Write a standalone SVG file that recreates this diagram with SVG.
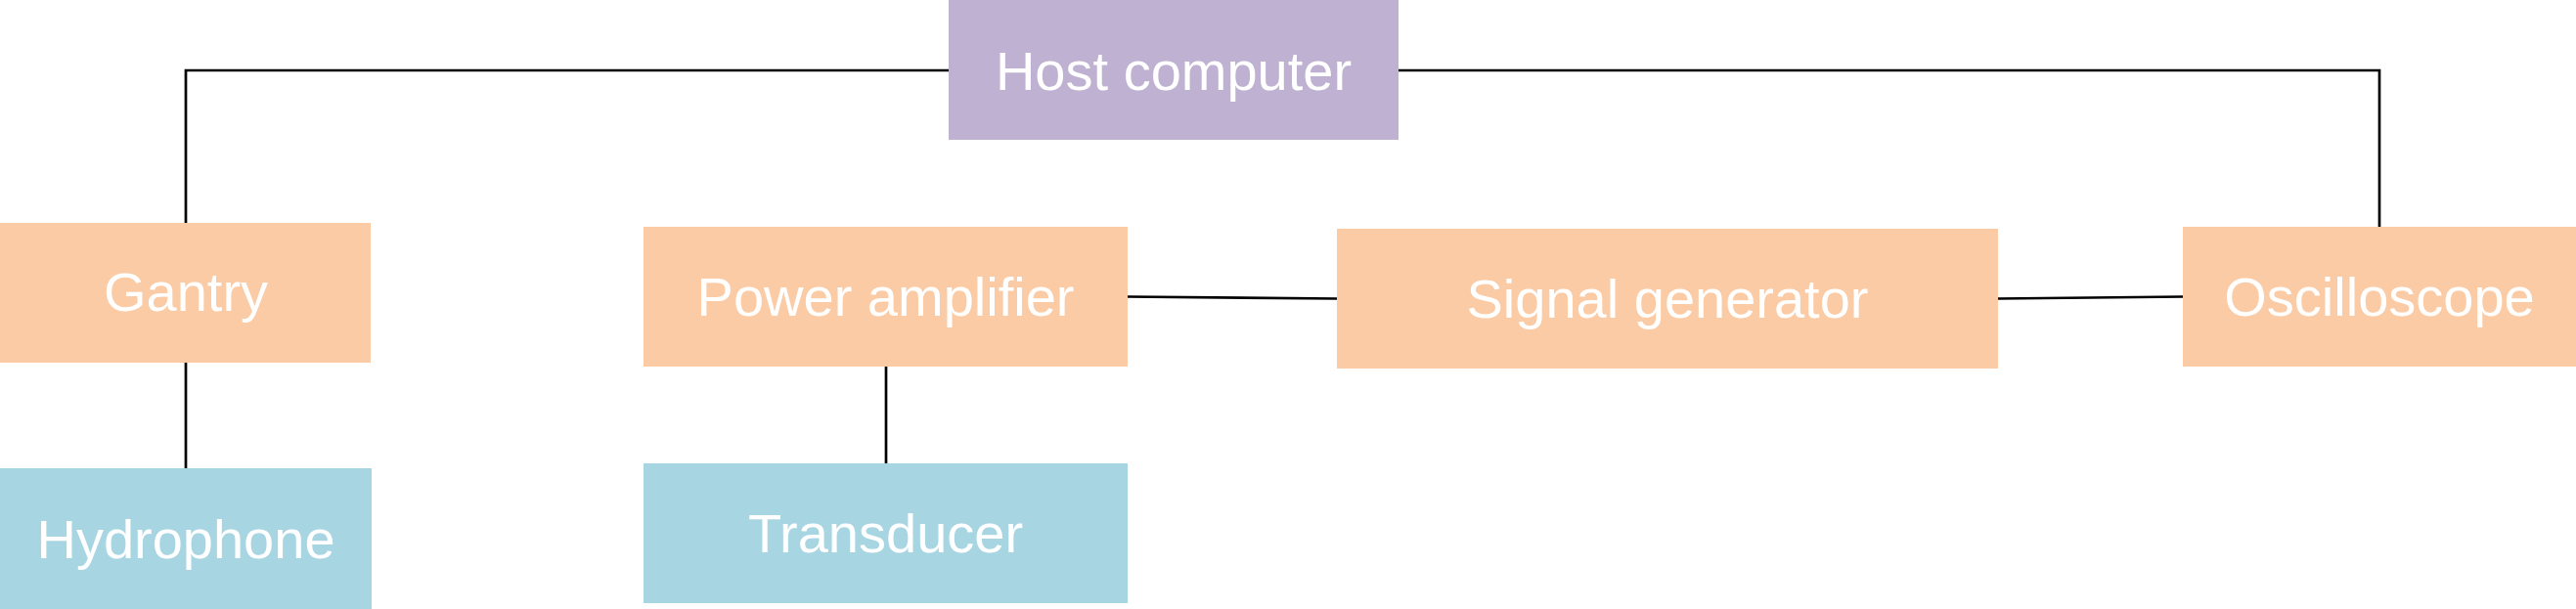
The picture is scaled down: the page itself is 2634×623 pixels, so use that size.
<svg xmlns="http://www.w3.org/2000/svg" width="2634" height="623" viewBox="0 0 2634 623">
<style>
.lbl{font-family:"Liberation Sans",Arial,sans-serif;font-size:56px;fill:#ffffff;text-anchor:middle}
.host{fill:#BFB1D1}
.dev{fill:#FACBA5}
.probe{fill:#A7D5E2}
.conn{fill:none;stroke:#000000;stroke-width:2.7}
</style>
<rect width="2634" height="623" fill="#ffffff"/>
<g id="connectors">
<polyline class="conn" points="970,72 190,72 190,228"/>
<polyline class="conn" points="1430,72 2433,72 2433,232"/>
<line class="conn" x1="190" y1="371" x2="190" y2="479"/>
<line class="conn" x1="906" y1="375" x2="906" y2="474"/>
<line class="conn" x1="1153" y1="303.5" x2="1367" y2="305.5"/>
<line class="conn" x1="2043" y1="305.5" x2="2232" y2="303.5"/>
</g>
<g id="host-computer">
<rect class="host" x="970" y="0" width="460" height="143"/>
<text class="lbl" x="1200" y="92">Host computer</text>
</g>
<g id="gantry">
<rect class="dev" x="0" y="228" width="379" height="143"/>
<text class="lbl" x="190" y="318">Gantry</text>
</g>
<g id="hydrophone">
<rect class="probe" x="0" y="479" width="380" height="144"/>
<text class="lbl" x="190" y="571">Hydrophone</text>
</g>
<g id="power-amplifier">
<rect class="dev" x="658" y="232" width="495" height="143"/>
<text class="lbl" x="905.5" y="323">Power amplifier</text>
</g>
<g id="transducer">
<rect class="probe" x="658" y="474" width="495" height="143"/>
<text class="lbl" x="905.5" y="565">Transducer</text>
</g>
<g id="signal-generator">
<rect class="dev" x="1367" y="234" width="676" height="143"/>
<text class="lbl" x="1705" y="325">Signal generator</text>
</g>
<g id="oscilloscope">
<rect class="dev" x="2232" y="232" width="402" height="143"/>
<text class="lbl" x="2433" y="323">Oscilloscope</text>
</g>
</svg>
